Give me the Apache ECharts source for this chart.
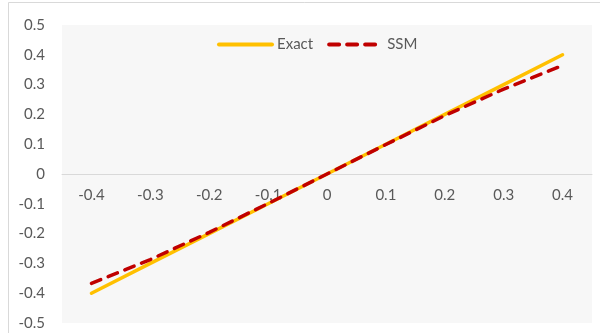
<!DOCTYPE html>
<html>
<head>
<meta charset="utf-8">
<script src="https://cdn.jsdelivr.net/npm/echarts@6/dist/echarts.min.js"></script>
<style>html,body{margin:0;padding:0;background:#fff}#c{width:600px;height:333px}</style>
</head>
<body>
<div id="c"></div>
<script>
const categories = ['-0.4','-0.3','-0.2','-0.1','0','0.1','0.2','0.3','0.4'];
const exactValues = [-0.4,-0.3,-0.2,-0.1,0,0.1,0.2,0.3,0.4];
const ssmValues = [-0.367,-0.287,-0.196,-0.099,0,0.099,0.196,0.285,0.364];
const seriesNames = ['Exact','SSM'];

const chart = echarts.init(document.getElementById('c'), null, {renderer:'canvas'});
const font = 'Lato, "Open Sans", sans-serif';
const gridTop = 25, gridBottom = 10, H = 333;
chart.setOption({
  animation:false,
  backgroundColor:'#fff',
  graphic:[{type:'rect',shape:{x:8.5,y:2.5,width:620,height:360},style:{fill:'none',stroke:'#d9d9d9',lineWidth:1},silent:true}],
  grid:{left:62,right:8,top:gridTop,bottom:gridBottom,show:true,backgroundColor:'#f7f7f7',borderWidth:0,containLabel:false},
  legend:{
    top:32,left:212,itemWidth:53,itemHeight:12,itemGap:14,
    itemStyle:{color:'transparent',borderWidth:0,opacity:0},
    lineStyle:{width:4},
    textStyle:{color:'#595959',fontSize:15,fontFamily:font},
    data:seriesNames
  },
  xAxis:{
    type:'category',data:categories,boundaryGap:true,
    position:'bottom',
    offset:-(H-gridTop-gridBottom)/2,
    axisLine:{onZero:false,lineStyle:{color:'#d9d9d9',width:1}},
    axisTick:{show:false},
    axisLabel:{color:'#595959',fontSize:15,fontFamily:font,margin:14},
    splitLine:{show:false}
  },
  yAxis:{
    type:'value',min:-0.5,max:0.5,interval:0.1,
    axisLine:{show:false},axisTick:{show:false},splitLine:{show:false},
    axisLabel:{color:'#595959',fontSize:15,fontFamily:font,margin:17,
      formatter:v=>{const r=Math.round(v*10)/10;return r===0?'0':String(r);}}
  },
  series:[
    {name:seriesNames[0],type:'line',data:exactValues,symbol:'none',smooth:false,
     lineStyle:{color:'#FFC000',width:3.5,cap:'round'},itemStyle:{color:'#FFC000'}},
    {name:seriesNames[1],type:'line',data:ssmValues,symbol:'none',smooth:false,
     lineStyle:{color:'#C00000',width:3.5,type:[10,8],cap:'round'},itemStyle:{color:'#C00000'}}
  ]
});
</script>
</body>
</html>
